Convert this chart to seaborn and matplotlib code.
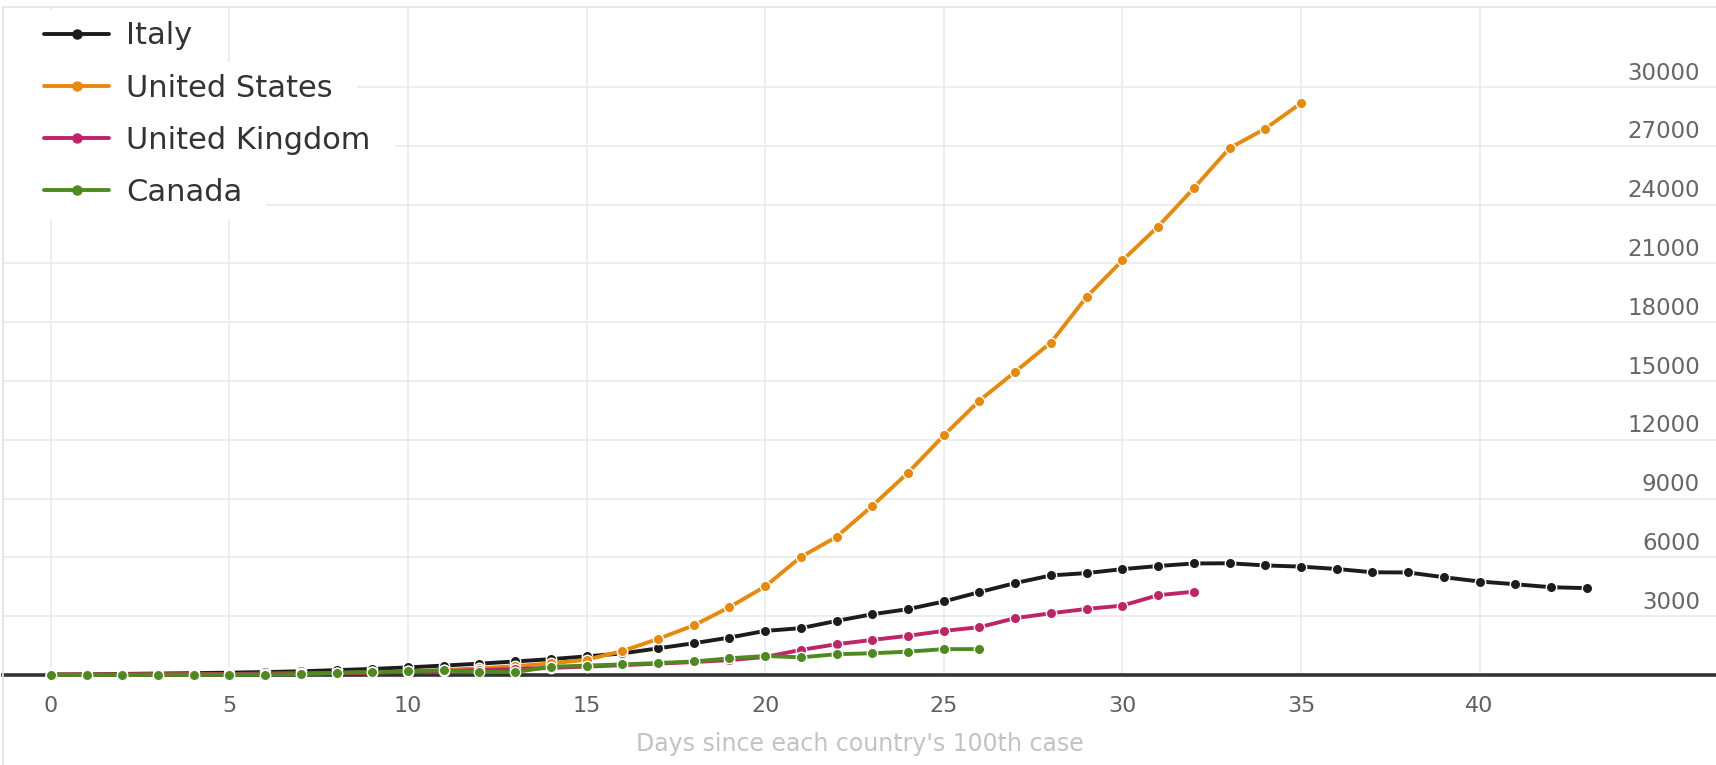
import numpy as np
import pandas as pd
import matplotlib
matplotlib.use("Agg")
import matplotlib.pyplot as plt
import matplotlib.transforms as mtransforms
from matplotlib.lines import Line2D
from matplotlib.patches import Rectangle
import seaborn as sns

# ---- data: daily new cases, indexed by days since each country's 100th case ----
countries = ["Italy", "United States", "United Kingdom", "Canada"]
colors = ["#1c1c1c", "#e8890c", "#bf2468", "#4d8a1f"]

italy = [30, 40, 55, 75, 95, 120, 150, 190, 250, 310,
         390, 480, 580, 690, 810, 950, 1100, 1360, 1620, 1910,
         2250, 2390, 2760, 3100, 3360, 3750, 4230, 4690, 5080, 5200,
         5400, 5560, 5690, 5700, 5590, 5530, 5410, 5240, 5230, 4990,
         4770, 4630, 4480, 4430]
united_states = [15, 20, 25, 30, 40, 50, 65, 80, 100, 130,
                 180, 250, 340, 450, 590, 780, 1220, 1840, 2530, 3460,
                 4520, 6020, 7050, 8630, 10320, 12220, 14000, 15470, 16960, 19290,
                 21150, 22880, 24830, 26880, 27870, 29170]
united_kingdom = [10, 15, 20, 25, 35, 45, 60, 80, 100, 130,
                  160, 200, 250, 300, 360, 430, 500, 580, 660, 760,
                  920, 1280, 1570, 1790, 2000, 2250, 2440, 2900, 3150, 3370,
                  3540, 4070, 4250]
canada = [5, 8, 10, 12, 15, 20, 25, 35, 120, 150,
          190, 240, 160, 150, 420, 480, 540, 610, 690, 850,
          970, 900, 1060, 1110, 1190, 1320, 1320]

x_ticks = [0, 5, 10, 15, 20, 25, 30, 35, 40]
y_ticks = [3000, 6000, 9000, 12000, 15000, 18000, 21000, 24000, 27000, 30000]
y_tick_labels = [str(v) for v in y_ticks]
x_label = "Days since each country's 100th case"

frames = []
for name, values in zip(countries, [italy, united_states, united_kingdom, canada]):
    frames.append(pd.DataFrame({"day": np.arange(len(values)),
                                "cases": values,
                                "country": name}))
df = pd.concat(frames, ignore_index=True)

# ---- style ----
sns.set_theme(style="whitegrid")
plt.rcParams["font.family"] = ["DejaVu Sans"]
plt.rcParams["grid.color"] = "#ececec"
plt.rcParams["grid.linewidth"] = 1.3

W, H = 1716, 765
fig = plt.figure(figsize=(W / 100, H / 100), dpi=100)
fig.patch.set_facecolor("white")
ax = fig.add_axes([3 / W, 90 / H, 1713 / W, 668 / H])

palette = dict(zip(countries, colors))
sns.lineplot(data=df, x="day", y="cases", hue="country", hue_order=countries,
             palette=palette, marker="o", markersize=7.5,
             markeredgecolor="white", markeredgewidth=1.0,
             linewidth=2.8, legend=False, ax=ax, clip_on=False)

ax.set_xlim(-1.338, 46.62)
ax.set_ylim(0, 34080)
ax.set_xticks(x_ticks)
ax.set_xticklabels([str(t) for t in x_ticks])
ax.set_yticks(y_ticks)
ax.tick_params(axis="y", left=False, labelleft=False)
ax.tick_params(axis="x", length=0, pad=15, labelsize=16, labelcolor="#606060")

ax.set_ylabel("")
ax.set_xlabel(x_label, color="#c2c2c2", fontsize=17, labelpad=12)

# value labels sitting just above each horizontal gridline, inside the right edge
for v, lbl in zip(y_ticks, y_tick_labels):
    ax.annotate(lbl, xy=(0.9907, v), xycoords=("axes fraction", "data"),
                xytext=(0, 10), textcoords="offset points",
                ha="right", va="center", fontsize=16.5, color="#666666")

# frame
ax.spines["right"].set_visible(False)
ax.spines["top"].set_color("#e4e4e4")
ax.spines["top"].set_linewidth(1.2)
ax.spines["left"].set_color("#e0e0e0")
ax.spines["left"].set_linewidth(1.2)
ax.spines["bottom"].set_color("#333333")
ax.spines["bottom"].set_linewidth(2.6)
ax.spines["bottom"].set_zorder(1.9)
fig.add_artist(Line2D([3 / W, 3 / W], [0, 90 / H], transform=fig.transFigure,
                      color="#e0e0e0", lw=1.2))

# legend
handles = [Line2D([], [], color=c, lw=2.8, marker="o", ms=6.5,
                  markeredgecolor=c) for c in colors]
leg = ax.legend(handles, countries, loc="upper left",
                bbox_to_anchor=(44 / W, 1 - 21.5 / H), bbox_transform=fig.transFigure,
                frameon=False, prop={"family": "DejaVu Sans", "size": 22},
                labelcolor="#333333", handlelength=2.13, handletextpad=0.56,
                labelspacing=0.76, borderpad=0, borderaxespad=0, numpoints=1)
leg.set_zorder(5)

# white backing behind each legend row so gridlines stop short of it
fig.canvas.draw()
renderer = fig.canvas.get_renderer()
text_boxes = [t.get_window_extent(renderer) for t in leg.get_texts()]
centers = [(b.y0 + b.y1) / 2 for b in text_boxes]
pitch = abs(centers[0] - centers[-1]) / (len(centers) - 1)
for b, cy in zip(text_boxes, centers):
    x0 = ax.bbox.x0 + 1
    rect = Rectangle((x0, cy - pitch / 2), b.x1 + 24 - x0, pitch,
                     transform=mtransforms.IdentityTransform(),
                     facecolor="white", edgecolor="none", zorder=1.5)
    ax.add_artist(rect)

fig.savefig("out.png", dpi=100)
